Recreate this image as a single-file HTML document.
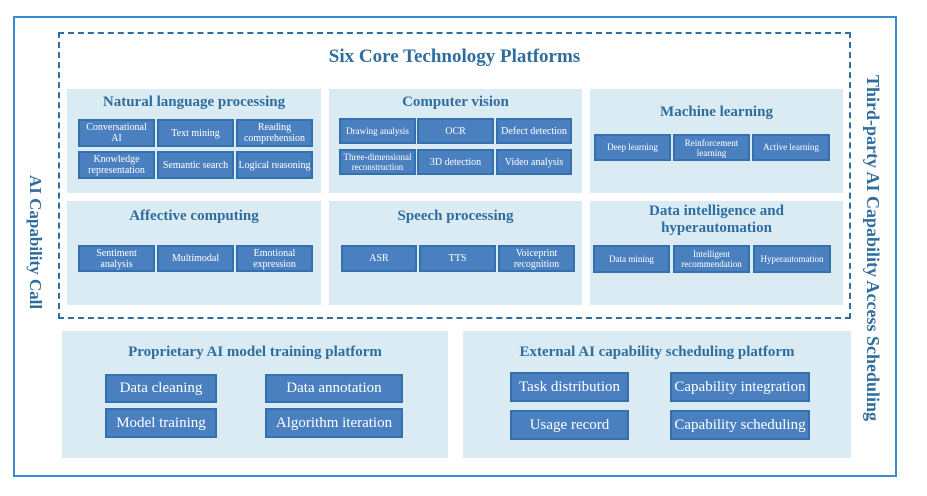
<!DOCTYPE html>
<html><head><meta charset="utf-8"><style>
*{margin:0;padding:0;box-sizing:border-box}
body{width:927px;height:496px;background:#fff;position:relative;overflow:hidden;font-family:"Liberation Serif",serif}
.a{position:absolute}
.outer{left:13px;top:16px;width:884px;height:461px;border:2px solid #3a8ccb}
.dash{left:58px;top:32px;width:793px;height:287px;border:2px dashed #2f6e9e}
.p{position:absolute;background:#dbebf3}
.t{position:absolute;color:#2f6d9e;font-weight:bold;text-align:center;left:0;right:0}
.b{position:absolute;background:#4a80bf;border:2px solid #3570ae;color:#fff;font-size:10px;line-height:11px;display:flex;align-items:center;justify-content:center;text-align:center}
.B{position:absolute;background:#4a80bf;border:2px solid #3570ae;color:#fff;font-size:15px;display:flex;align-items:center;justify-content:center}
.v{position:absolute;writing-mode:vertical-rl;color:#2f6d9e;font-weight:bold;white-space:nowrap}
</style></head><body>
<div class="a outer"></div>
<div class="a dash"></div>
<div class="a" style="left:58px;top:46px;width:793px;text-align:center;color:#2f6d9e;font-weight:bold;font-size:19px">Six Core Technology Platforms</div>
<div class="v" style="left:25px;top:175px;font-size:17px">AI Capability Call</div>
<div class="v" style="left:862px;top:75px;font-size:18px">Third-party AI Capability Access Scheduling</div>

<div class="p" style="left:67px;top:89px;width:254px;height:104px"><div class="t" style="top:5px;font-size:15px">Natural language processing</div></div>
<div class="p" style="left:329px;top:89px;width:253px;height:104px"><div class="t" style="top:5px;font-size:15px">Computer vision</div></div>
<div class="p" style="left:590px;top:89px;width:253px;height:104px"><div class="t" style="top:15px;font-size:15px">Machine learning</div></div>
<div class="p" style="left:67px;top:201px;width:254px;height:104px"><div class="t" style="top:7px;font-size:15px">Affective computing</div></div>
<div class="p" style="left:329px;top:201px;width:253px;height:104px"><div class="t" style="top:7px;font-size:15px">Speech processing</div></div>
<div class="p" style="left:590px;top:201px;width:253px;height:104px"><div class="t" style="top:2px;font-size:15px;line-height:17px">Data intelligence and<br>hyperautomation</div></div>

<div class="b" style="left:78px;top:119px;width:77px;height:28px">Conversational<br>AI</div>
<div class="b" style="left:157px;top:119px;width:77px;height:28px">Text mining</div>
<div class="b" style="left:236px;top:119px;width:77px;height:28px">Reading<br>comprehension</div>
<div class="b" style="left:78px;top:151px;width:77px;height:28px">Knowledge<br>representation</div>
<div class="b" style="left:157px;top:151px;width:77px;height:28px">Semantic search</div>
<div class="b" style="left:236px;top:151px;width:77px;height:28px">Logical reasoning</div>

<div class="b" style="left:339px;top:118px;width:77px;height:26px;font-size:9px">Drawing analysis</div>
<div class="b" style="left:417px;top:118px;width:77px;height:26px">OCR</div>
<div class="b" style="left:496px;top:118px;width:76px;height:26px">Defect detection</div>
<div class="b" style="left:339px;top:149px;width:77px;height:26px;font-size:9px;line-height:10px">Three-dimensional<br>reconstruction</div>
<div class="b" style="left:417px;top:149px;width:77px;height:26px">3D detection</div>
<div class="b" style="left:496px;top:149px;width:76px;height:26px">Video analysis</div>

<div class="b" style="left:594px;top:134px;width:77px;height:27px;font-size:9px">Deep learning</div>
<div class="b" style="left:673px;top:134px;width:77px;height:27px;font-size:9px;line-height:10px">Reinforcement<br>learning</div>
<div class="b" style="left:752px;top:134px;width:78px;height:27px;font-size:9px">Active learning</div>

<div class="b" style="left:78px;top:245px;width:77px;height:27px">Sentiment<br>analysis</div>
<div class="b" style="left:157px;top:245px;width:77px;height:27px">Multimodal</div>
<div class="b" style="left:236px;top:245px;width:77px;height:27px">Emotional<br>expression</div>

<div class="b" style="left:341px;top:245px;width:76px;height:27px">ASR</div>
<div class="b" style="left:419px;top:245px;width:77px;height:27px">TTS</div>
<div class="b" style="left:498px;top:245px;width:77px;height:27px">Voiceprint<br>recognition</div>

<div class="b" style="left:593px;top:245px;width:77px;height:28px;font-size:9px">Data mining</div>
<div class="b" style="left:673px;top:245px;width:77px;height:28px;font-size:9px;line-height:10px">Intelligent<br>recommendation</div>
<div class="b" style="left:753px;top:245px;width:78px;height:28px;font-size:9px">Hyperautomation</div>

<div class="p" style="left:62px;top:331px;width:386px;height:127px"><div class="t" style="top:13px;font-size:15px">Proprietary AI model training platform</div></div>
<div class="p" style="left:463px;top:331px;width:388px;height:127px"><div class="t" style="top:13px;font-size:15px">External AI capability scheduling platform</div></div>

<div class="B" style="left:105px;top:374px;width:112px;height:29px">Data cleaning</div>
<div class="B" style="left:265px;top:374px;width:138px;height:29px">Data annotation</div>
<div class="B" style="left:105px;top:408px;width:112px;height:30px">Model training</div>
<div class="B" style="left:265px;top:408px;width:138px;height:30px">Algorithm iteration</div>

<div class="B" style="left:510px;top:372px;width:119px;height:30px">Task distribution</div>
<div class="B" style="left:670px;top:372px;width:140px;height:30px">Capability integration</div>
<div class="B" style="left:510px;top:410px;width:119px;height:30px">Usage record</div>
<div class="B" style="left:670px;top:410px;width:140px;height:30px">Capability scheduling</div>
</body></html>
